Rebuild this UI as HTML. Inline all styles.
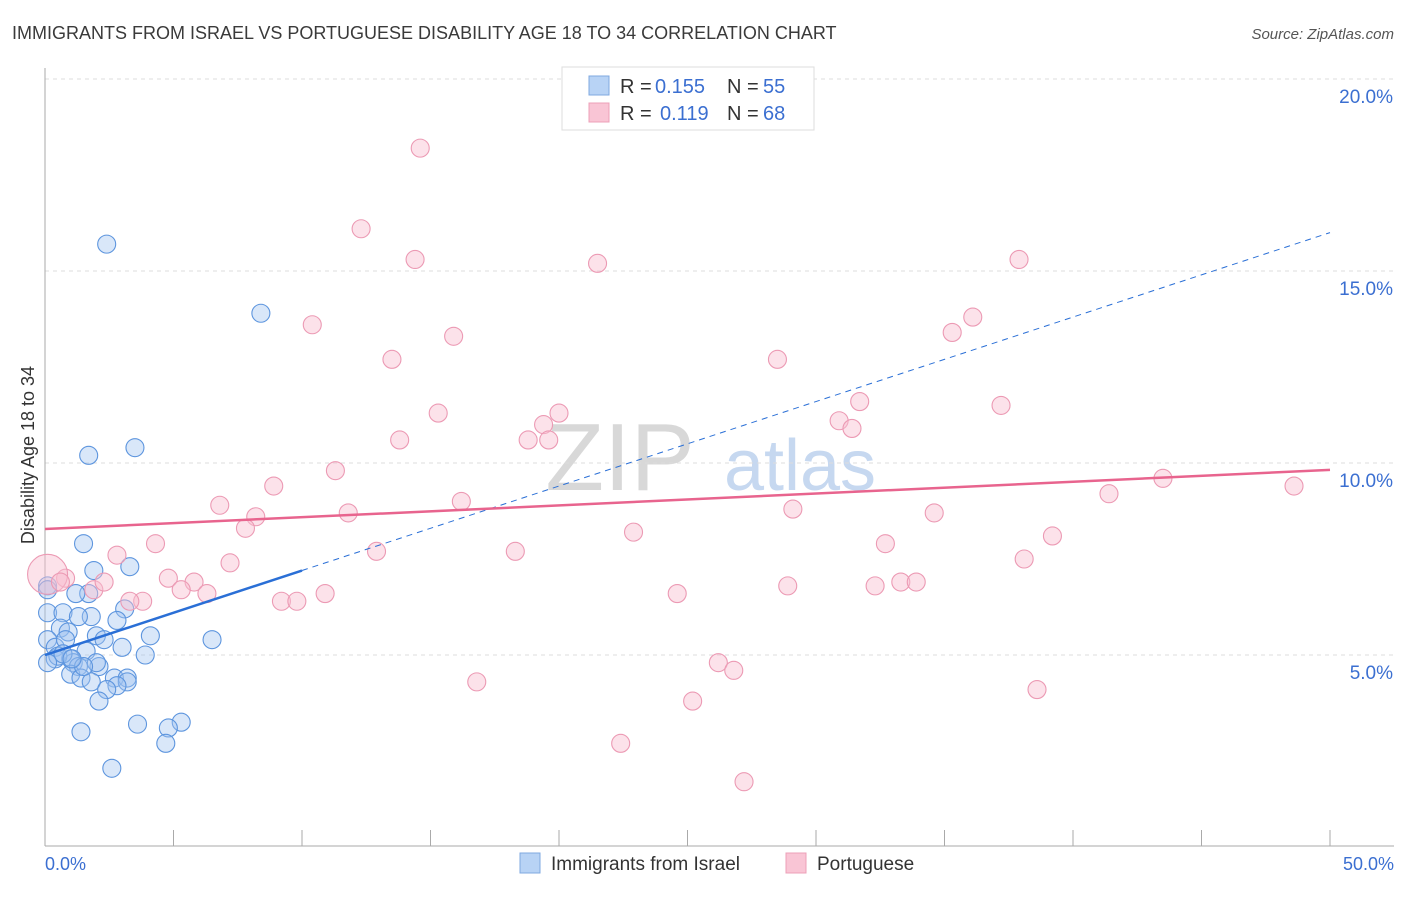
<!DOCTYPE html>
<html><head><meta charset="utf-8"><style>
body{margin:0;background:#fff;font-family:"Liberation Sans",sans-serif;}
svg text{font-family:"Liberation Sans",sans-serif;}
</style></head><body>
<svg id="chart" width="1406" height="892" viewBox="0 0 1406 892" xmlns="http://www.w3.org/2000/svg">
<text x="12" y="39" font-size="18" fill="#3a3a3a">IMMIGRANTS FROM ISRAEL VS PORTUGUESE DISABILITY AGE 18 TO 34 CORRELATION CHART</text>
<text x="1394" y="39" font-size="15" fill="#555" font-style="italic" text-anchor="end">Source: ZipAtlas.com</text>
<text x="620" y="490" font-size="96" fill="#d8d8d8" font-family="Liberation Serif" text-anchor="middle">ZIP</text>
<text x="800" y="490" font-size="72" fill="#c6d8f0" text-anchor="middle">atlas</text>
<g id="grid"></g><g id="axes"></g><g id="pts"></g><g id="trends"></g>
<text transform="translate(34,455) rotate(-90)" font-size="18" fill="#333" text-anchor="middle">Disability Age 18 to 34</text>
<text x="45" y="870" font-size="18" fill="#3b6fd1">0.0%</text>
<text x="1394" y="870" font-size="18" fill="#3b6fd1" text-anchor="end">50.0%</text>
<g>
<rect x="562" y="67" width="252" height="63" fill="#fff" stroke="#ddd"/>
<rect x="589" y="76" width="20" height="19" fill="#b8d3f5" stroke="#7fa8e0"/>
<rect x="589" y="103" width="20" height="19" fill="#f9c5d5" stroke="#eda0b8"/>
<text y="93" font-size="20" fill="#333"><tspan x="620">R =</tspan><tspan x="655" fill="#3b6fd1">0.155</tspan><tspan x="727">N =</tspan><tspan x="763" fill="#3b6fd1">55</tspan></text>
<text y="120" font-size="20" fill="#333"><tspan x="620">R =</tspan><tspan x="660" fill="#3b6fd1">0.119</tspan><tspan x="727">N =</tspan><tspan x="763" fill="#3b6fd1">68</tspan></text>
</g>
<g>
<rect x="520" y="853" width="20" height="20" fill="#b8d3f5" stroke="#7fa8e0"/>
<text x="551" y="870" font-size="19" fill="#333">Immigrants from Israel</text>
<rect x="786" y="853" width="20" height="20" fill="#f9c5d5" stroke="#eda0b8"/>
<text x="817" y="870" font-size="19" fill="#333">Portuguese</text>
</g>
</svg>
<script>
const yTicks=[5,10,15,20];
const yTickLabels=["5.0%","10.0%","15.0%","20.0%"];
const xTicks=[0,5,10,15,20,25,30,35,40,45,50];
const blueX=[2.4,8.4,1.7,3.5,1.5,1.9,3.3,0.1,1.7,1.2,3.1,0.1,0.7,2.8,1.8,1.3,0.6,0.9,2.0,2.3,4.1,6.5,0.1,0.4,0.8,3.0,3.9,1.6,0.4,1.0,1.1,2.1,1.3,1.0,1.4,2.7,1.8,3.2,3.2,2.8,2.4,2.1,5.3,4.8,3.6,1.4,4.7,2.6,0.1,0.5,0.7,0.1,2.0,1.5,1.05];
const blueY=[15.7,13.9,10.2,10.4,7.9,7.2,7.3,6.8,6.6,6.6,6.2,6.1,6.1,5.9,6.0,6.0,5.7,5.6,5.5,5.4,5.5,5.4,5.4,5.2,5.4,5.2,5.0,5.1,4.9,4.9,4.8,4.7,4.7,4.5,4.4,4.4,4.3,4.4,4.3,4.2,4.1,3.8,3.25,3.1,3.2,3.0,2.7,2.05,6.7,4.97,5.03,4.8,4.8,4.7,4.9];
const pinkX=[14.6,12.3,14.4,21.5,37.9,10.4,15.9,13.5,36.1,35.3,28.5,31.7,37.2,15.3,20.0,19.4,30.9,31.4,13.8,18.8,19.6,11.3,43.5,41.4,48.6,8.9,6.8,16.2,11.8,8.2,29.1,34.6,7.8,22.9,39.2,4.3,12.9,18.3,32.7,2.8,7.2,38.1,1.9,4.8,0.8,2.3,5.8,5.3,6.3,33.3,33.9,32.3,28.9,24.6,3.8,3.3,9.2,9.8,10.9,0.1,0.6,26.2,26.8,16.8,38.6,25.2,22.4,27.2];
const pinkY=[18.2,16.1,15.3,15.2,15.3,13.6,13.3,12.7,13.8,13.4,12.7,11.6,11.5,11.3,11.3,11.0,11.1,10.9,10.6,10.6,10.6,9.8,9.6,9.2,9.4,9.4,8.9,9.0,8.7,8.6,8.8,8.7,8.3,8.2,8.1,7.9,7.7,7.7,7.9,7.6,7.4,7.5,6.7,7.0,7.0,6.9,6.9,6.7,6.6,6.9,6.9,6.8,6.8,6.6,6.4,6.4,6.4,6.4,6.6,7.1,6.9,4.8,4.6,4.3,4.1,3.8,2.7,1.7];
const pinkR=pinkX.map((_, i)=> i===59 ? 20 : 9);
const blueTrend=[5.0,16.0];
const pinkTrend=[8.28,9.82];
const X0=45,X1=1330,Y0=847,YS=38.4;
const sx=v=>X0+(X1-X0)*v/50, sy=v=>Y0-v*YS;
const NS="http://www.w3.org/2000/svg";
function mk(t,a,p){const e=document.createElementNS(NS,t);for(const k in a)e.setAttribute(k,a[k]);p.appendChild(e);return e;}
const grid=document.getElementById('grid'),axes=document.getElementById('axes'),pts=document.getElementById('pts'),tr=document.getElementById('trends');
yTicks.forEach((v,i)=>{
 const l=mk('line',{x1:X0,x2:1394,y1:sy(v),y2:sy(v),stroke:'#ddd','stroke-dasharray':'4,4'},grid);
 
 
 const t=mk('text',{x:1393,y:sy(v)+24,'font-size':19,fill:'#3b6fd1','text-anchor':'end'},grid);
 t.textContent=yTickLabels[i];
 
 
});
const ax=mk('line',{x1:X0,x2:X0,y1:68,y2:846,stroke:'#aaa'},axes);


const bx=mk('line',{x1:X0,x2:1394,y1:846,y2:846,stroke:'#aaa'},axes);


xTicks.forEach(v=>{
 const t=mk('line',{x1:sx(v),x2:sx(v),y1:830,y2:846,stroke:'#aaa'},axes);
 
 
});
blueX.forEach((v,i)=>{
 const c=mk('circle',{cx:sx(v),cy:sy(blueY[i]),r:9,fill:'rgba(160,196,240,0.4)',stroke:'#5d95de','stroke-width':1.1},pts);
 
 
});
pinkX.forEach((v,i)=>{
 const c=mk('circle',{cx:sx(v),cy:sy(pinkY[i]),r:pinkR[i],fill:'rgba(248,190,208,0.45)',stroke:'#ec9ab4','stroke-width':1.1},pts);
 
 
});
const bslope=(blueTrend[1]-blueTrend[0])/50;
const b1=mk('line',{x1:sx(0),y1:sy(blueTrend[0]),x2:sx(10),y2:sy(blueTrend[0]+bslope*10),stroke:'#2a6fd6','stroke-width':2.5},tr);


const b2=mk('line',{x1:sx(10),y1:sy(blueTrend[0]+bslope*10),x2:sx(50),y2:sy(blueTrend[1]),stroke:'#2a6fd6','stroke-width':1,'stroke-dasharray':'6,5'},tr);


const p1=mk('line',{x1:sx(0),y1:sy(pinkTrend[0]),x2:sx(50),y2:sy(pinkTrend[1]),stroke:'#e8648e','stroke-width':2.5},tr);


</script>
</body></html>
